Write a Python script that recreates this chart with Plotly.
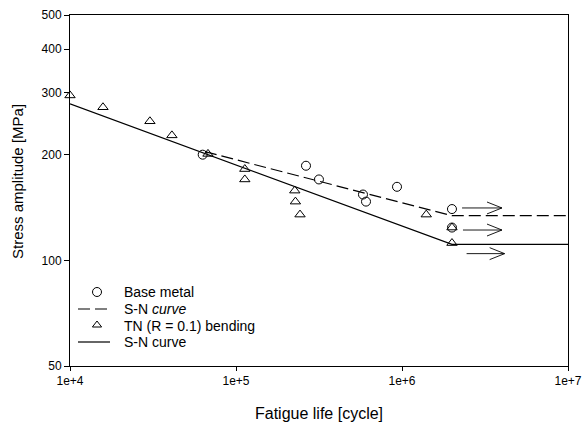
import plotly.graph_objects as go
import numpy as np

# Base metal data
base_N = [63000, 264000, 316000, 582000, 607000, 933000, 2.0e6, 2.0e6]
base_S = [200, 186, 170, 154, 147, 162, 140, 124]

# TN (R = 0.1) bending data
tn_N = [1.0e4, 15800, 30300, 41100, 67800, 113000, 113000, 226000, 228000, 243000, 1.40e6, 2.0e6, 2.0e6]
tn_S = [295, 273, 249, 227, 201, 182, 170, 158, 147, 135, 135, 112, 124]

# S-N curves
base_sn_N = [65000, 2.0e6, 1.0e7]
base_sn_S = [204, 134, 134]
tn_sn_N = [1.0e4, 2.0e6, 1.0e7]
tn_sn_S = [279, 111, 111]

# Run-out arrows (start N, end N, S)
arrow_start_N = [2.30e6, 2.33e6, 2.45e6]
arrow_end_N = [4.0e6, 4.0e6, 4.15e6]
arrow_S = [141, 122, 104.5]

x_tickvals = [1e4, 1e5, 1e6, 1e7]
x_ticktext = ["1e+4", "1e+5", "1e+6", "1e+7"]
y_tickvals = [50, 100, 200, 300, 400, 500]

legend_labels = ["Base metal", "S-N <i>curve</i>", "TN (R = 0.1) bending", "S-N curve"]

W, H = 587, 425
ML, MR, MT, MB = 70, 19, 15, 59
PW, PH = W - ML - MR, H - MT - MB


def px_to_paper_x(px):
    return (px - ML) / PW


def px_to_paper_y(py):
    return (MT + PH - py) / PH


fig = go.Figure()

fig.add_trace(go.Scatter(
    x=base_N, y=base_S, mode="markers", name=legend_labels[0], showlegend=False,
    marker=dict(symbol="circle-open", size=9, color="black", line=dict(width=1)),
    cliponaxis=False))
fig.add_trace(go.Scatter(
    x=base_sn_N, y=base_sn_S, mode="lines", name=legend_labels[1], showlegend=False,
    line=dict(color="black", width=1.2, dash="12px,5px")))
fig.add_trace(go.Scatter(
    x=tn_N, y=tn_S, mode="markers", name=legend_labels[2], showlegend=False,
    marker=dict(symbol="triangle-up-open", size=9, color="black", line=dict(width=1)),
    cliponaxis=False))
fig.add_trace(go.Scatter(
    x=tn_sn_N, y=tn_sn_S, mode="lines", name=legend_labels[3], showlegend=False,
    line=dict(color="black", width=1.2)))

# arrows as open-headed lines
ax, ay = [], []
head_len = 0.09   # in log10 N
head_half = 0.017  # in log10 S
for n0, n1, s in zip(arrow_start_N, arrow_end_N, arrow_S):
    back = 10 ** (np.log10(n1) - head_len)
    ax += [n0, n1, None, back, n1, back, None]
    ay += [s, s, None, s * 10 ** head_half, s, s / 10 ** head_half, None]
fig.add_trace(go.Scatter(x=ax, y=ay, mode="lines", showlegend=False,
                         line=dict(color="black", width=0.9)))

# ---- manual legend (pixel-coordinate overlay axes) ----
row_y = [292, 309, 326, 342]
key_x = 97
fig.add_trace(go.Scatter(
    x=[key_x], y=[row_y[0]], xaxis="x2", yaxis="y2", mode="markers", showlegend=False,
    marker=dict(symbol="circle-open", size=9, color="black", line=dict(width=1)),
    hoverinfo="skip"))
fig.add_trace(go.Scatter(
    x=[key_x], y=[row_y[2] - 1], xaxis="x2", yaxis="y2", mode="markers", showlegend=False,
    marker=dict(symbol="triangle-up-open", size=8, color="black", line=dict(width=1)),
    hoverinfo="skip"))
fig.add_trace(go.Scatter(
    x=[78, 110], y=[row_y[1], row_y[1]], xaxis="x2", yaxis="y2", mode="lines",
    showlegend=False, line=dict(color="black", width=1.2, dash="12px,5px"), hoverinfo="skip"))
fig.add_trace(go.Scatter(
    x=[78, 110], y=[row_y[3], row_y[3]], xaxis="x2", yaxis="y2", mode="lines",
    showlegend=False, line=dict(color="black", width=1.2), hoverinfo="skip"))

annotations = []
for lab, yy in zip(legend_labels, row_y):
    annotations.append(dict(
        text=lab, x=px_to_paper_x(122), y=px_to_paper_y(yy), xref="paper", yref="paper",
        xanchor="left", yanchor="middle",
        showarrow=False, font=dict(size=14, color="black")))

# axis titles
annotations.append(dict(
    text="Fatigue life [cycle]", x=px_to_paper_x(319), y=px_to_paper_y(413),
    xref="paper", yref="paper",
    xanchor="center", yanchor="middle", showarrow=False, font=dict(size=16, color="black")))
annotations.append(dict(
    text="Stress amplitude [MPa]", x=px_to_paper_x(17), y=px_to_paper_y(182),
    xref="paper", yref="paper", textangle=-90,
    xanchor="center", yanchor="middle", showarrow=False, font=dict(size=15, color="black")))

fig.update_layout(
    width=W, height=H,
    margin=dict(l=ML, r=MR, t=MT, b=MB),
    paper_bgcolor="white", plot_bgcolor="white",
    font=dict(family="Liberation Sans, Arial, sans-serif", color="black", size=12),
    showlegend=False,
    annotations=annotations,
    xaxis=dict(
        type="log", range=[4, 7], tickvals=x_tickvals, ticktext=x_ticktext,
        showgrid=False, zeroline=False, showline=True, linecolor="black", linewidth=1,
        mirror=True, ticks="outside", ticklen=4, tickcolor="black", automargin=False,
        tickfont=dict(size=12)),
    yaxis=dict(
        type="log", range=[np.log10(50), np.log10(500)], tickvals=y_tickvals,
        showgrid=False, zeroline=False, showline=True, linecolor="black", linewidth=1,
        mirror=True, ticks="outside", ticklen=5, tickcolor="black", automargin=False,
        tickfont=dict(size=12)),
    xaxis2=dict(overlaying="x", range=[ML, ML + PW], visible=False, fixedrange=True),
    yaxis2=dict(overlaying="y", range=[MT + PH, MT], visible=False, fixedrange=True),
)

fig.write_html("out.html", config={"displayModeBar": False},
               post_script="document.body.style.margin='0';")
